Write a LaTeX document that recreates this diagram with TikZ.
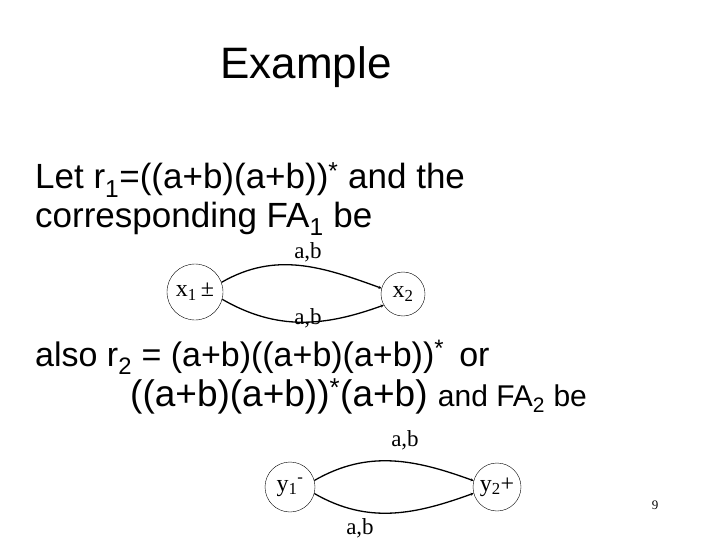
\documentclass[tikz,border=0pt]{standalone}
\usepackage{fontspec}
\setmainfont{Liberation Sans}
\newfontfamily\tms{Liberation Serif}
\usetikzlibrary{arrows.meta}
\begin{document}
\begin{tikzpicture}[x=1pt,y=-1pt,
  st/.style={draw,circle,thin,minimum size=50pt,inner sep=0pt,font=\tms\fontsize{24}{26}\selectfont},
  lb/.style={font=\tms\fontsize{23}{25}\selectfont},
  ed/.style={line width=1.3pt,-{Stealth[length=3pt,width=3pt]}},
  tx/.style={anchor=base west,font=\fontsize{35}{38}\selectfont,inner sep=0pt}]
\useasboundingbox (0,0) rectangle (720,540);
\node[anchor=base,font=\fontsize{44}{48}\selectfont] (t) at (306,79) {Example};
\node[tx] (l1) at (35,189) {Let r\textsubscript{1}=((a+b)(a+b))\textsuperscript{*} and the};
\node[tx] (l2) at (35,227) {corresponding FA\textsubscript{1} be};
\node[st,minimum size=56pt] (x1) at (195,292) {x\textsubscript{1}\,±};
\node[st,minimum size=44pt] (x2) at (403,294) {x\textsubscript{2}};
\draw[ed] (x1.20) to[out=30,in=160] (x2.165);
\draw[ed] (x1.-15) to[out=-30,in=-160] (x2.-150);
\node[lb,inner sep=1pt] (a1) at (308,252) {a,b};
\node[lb] (a2) at (308,318) {a,b};
\node[tx,font=\fontsize{34}{38}\selectfont] (l3) at (35,366) {also r\textsubscript{2} = (a+b)((a+b)(a+b))\textsuperscript{*}\, or};
\node[tx,font=\fontsize{37}{40}\selectfont] (l4) at (130,406) {((a+b)(a+b))\textsuperscript{*}(a+b) {\fontsize{30}{30}\selectfont and FA\textsubscript{2} be}};
\node[st] (y1) at (290,487) {y\textsubscript{1}\textsuperscript{-}};
\node[st,minimum size=48pt] (y2) at (497,487) {y\textsubscript{2}+};
\draw[ed] (y1.15) to[out=30,in=160] (y2.165);
\draw[ed] (y1.-15) to[out=-30,in=-160] (y2.-165);
\node[lb] (b1) at (405,440) {a,b};
\node[lb] (b2) at (360,528) {a,b};
\node[font=\tms\fontsize{13}{14}\selectfont] (p) at (655,505) {9};
\end{tikzpicture}
\end{document}
